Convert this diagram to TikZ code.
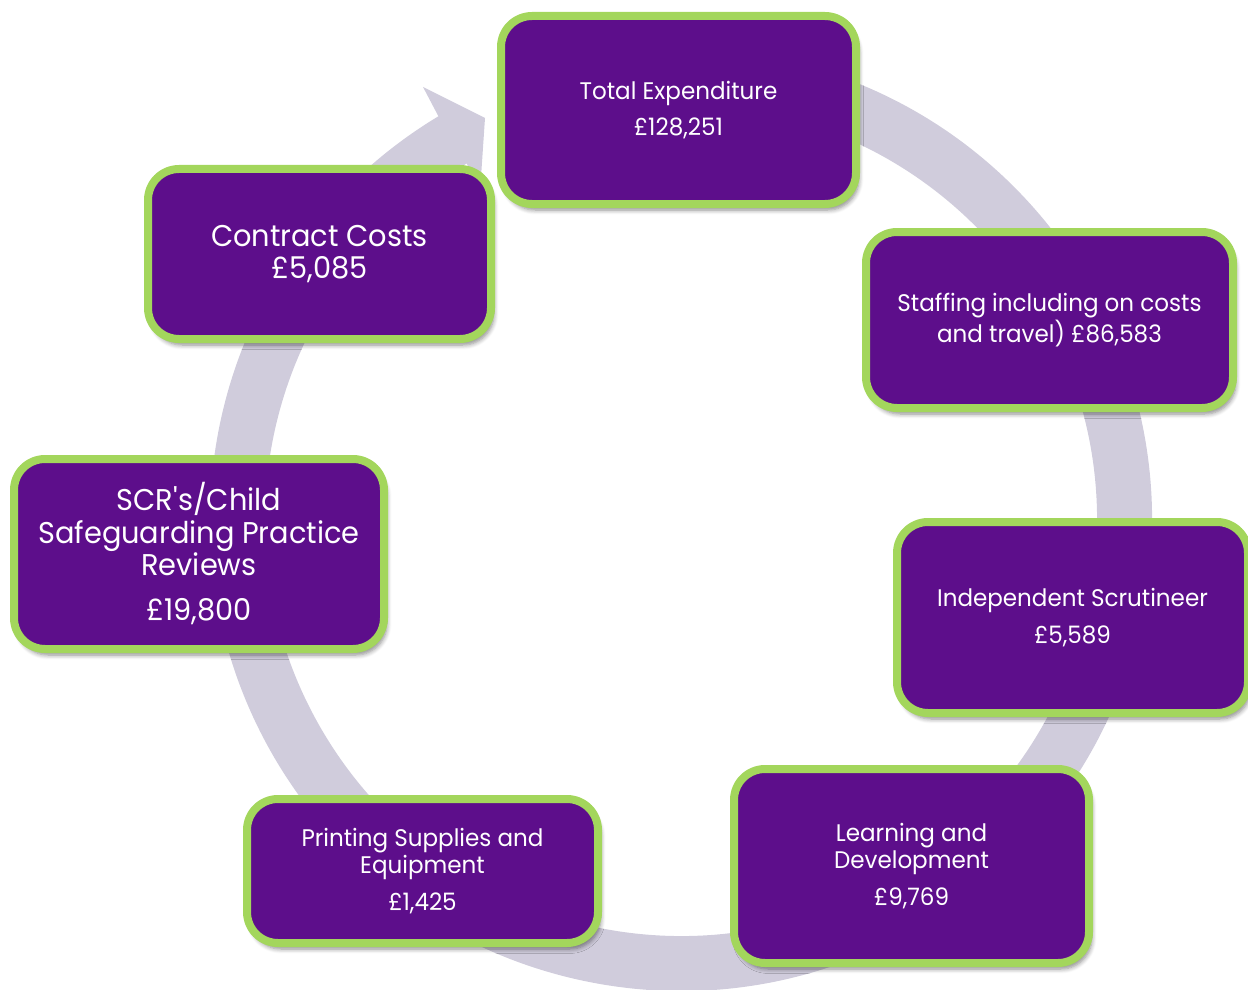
\documentclass[tikz,border=0pt]{standalone}
\usepackage{fontspec}
\setmainfont[FakeStretch=0.96]{Poppins}
\usetikzlibrary{shadows.blur,calc}
\definecolor{boxpurple}{RGB}{93,14,139}
\definecolor{boxgreen}{RGB}{163,214,92}
\definecolor{ringc}{RGB}{208,204,220}
\begin{document}
\begin{tikzpicture}[x=0.5pt,y=0.5pt,
 box/.style={draw=boxgreen, line width=4pt, fill=boxpurple, rounded corners=15.5pt, text=white, align=center, inner sep=0pt,
   blur shadow={shadow xshift=1.5pt, shadow yshift=-3pt, shadow blur steps=6, shadow opacity=45}},
 small/.style={font=\fontsize{12}{13.5}\selectfont},
 large/.style={font=\fontsize{15}{16.25}\selectfont}]
\useasboundingbox (0,0) rectangle (1248,-990);
\coordinate (C) at (681,-520);
\coordinate (outerbarb) at (423,-87);
\coordinate (tip) at (485,-118);
\coordinate (innerbarb) at (480,-192);
\fill[ringc] ($(C)+(80:235.5pt)$) arc[start angle=80,end angle=-239,radius=235.5pt]
  -- (outerbarb) -- (tip) -- (innerbarb) -- ($(C)+(121:208pt)$)
  arc[start angle=-239,end angle=80,radius=208pt] -- cycle;
\node[box, small, minimum width=177.5pt, minimum height=94pt] (total) at (678.5,-110)
  {Total Expenditure\\[4.5pt]£128,251};
\node[box, small, minimum width=183.5pt, minimum height=88pt] (staff) at (1049.5,-320)
  {Staffing including on costs\\and travel) £86,583};
\node[box, small, minimum width=175.5pt, minimum height=95.5pt] (scrut) at (1072.5,-617.5)
  {Independent Scrutineer\\[5pt]£5,589};
\node[box, small, minimum width=177.5pt, minimum height=97pt] (learn) at (911.5,-866)
  {Learning and\\Development\\[5pt]£9,769};
\node[box, small, minimum width=175.5pt, minimum height=72pt] (print) at (422.5,-871)
  {Printing Supplies and\\Equipment\\[5pt]£1,425};
\node[box, large, minimum width=185pt, minimum height=95pt] (scr) at (199,-554)
  {SCR\textquotesingle s/Child\\Safeguarding Practice\\Reviews\\[6.25pt]£19,800};
\node[box, large, minimum width=171.5pt, minimum height=85pt] (contract) at (319.5,-254)
  {Contract Costs\\£5,085};
\end{tikzpicture}
\end{document}
